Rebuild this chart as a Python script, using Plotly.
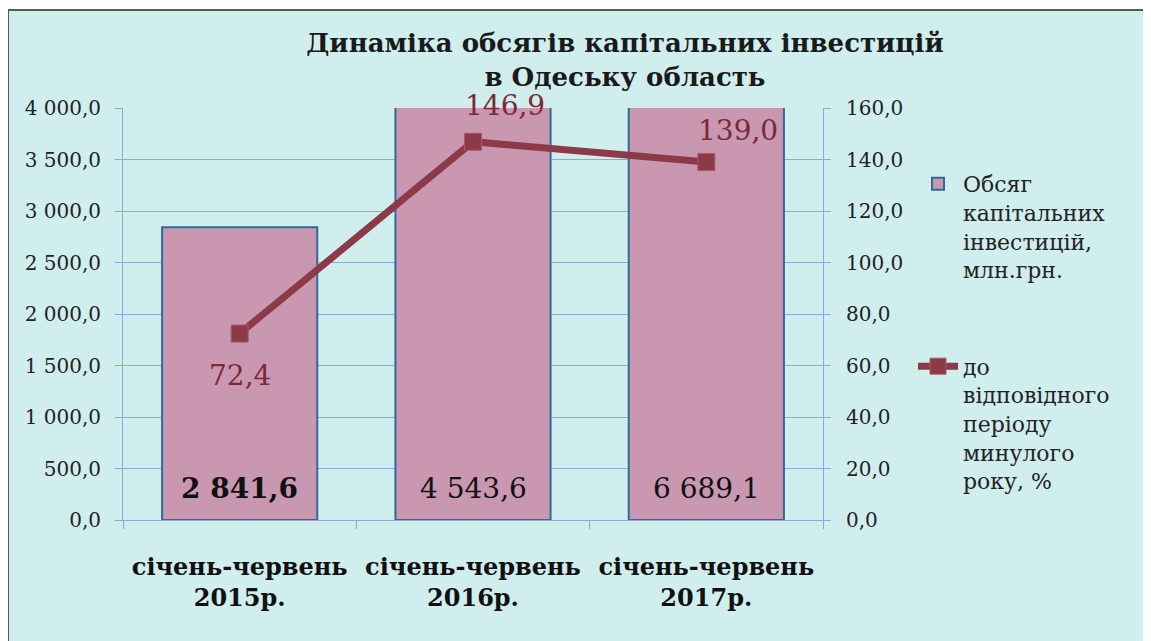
import plotly.graph_objects as go

categories = ["січень-червень<br>2015р.", "січень-червень<br>2016р.", "січень-червень<br>2017р."]
investments = [2841.6, 4543.6, 6689.1]
growth_pct = [72.4, 146.9, 139.0]
inv_labels = ["2 841,6", "4 543,6", "6 689,1"]
inv_label_weights = ["bold", "normal", "normal"]
pct_labels = ["72,4", "146,9", "139,0"]
left_ticks = [0, 500, 1000, 1500, 2000, 2500, 3000, 3500, 4000]
right_ticks = [0, 20, 40, 60, 80, 100, 120, 140, 160]

# page body has an 8px margin; figure coords = screenshot coords - 8
W, H = 1143, 633
ML, MT = 115, 100
PW, PH = 700, 412
MR = W - ML - PW
MB = H - MT - PH

SERIF = "DejaVu Serif"
BAR_FILL = "#C997B0"
BAR_LINE = "#2F6A9B"
LINE_COL = "#8C3A47"
GRID = "#8FA8D6"


def px_x(px):
    return (px - ML) / PW


def px_y(py):
    return (MT + PH - py) / PH


fig = go.Figure()

fig.add_trace(go.Bar(
    x=categories, y=investments,
    name="Обсяг<br>капітальних<br>інвестицій,<br>млн.грн.",
    marker=dict(color=BAR_FILL, line=dict(color=BAR_LINE, width=2)),
    width=0.665,
    legendgroup="a",
    yaxis="y",
))

fig.add_trace(go.Scatter(
    x=categories, y=growth_pct,
    name="до<br>відповідного<br>періоду<br>минулого<br>року, %",
    mode="lines+markers",
    line=dict(color=LINE_COL, width=7),
    marker=dict(symbol="square", size=17, color=LINE_COL, line=dict(color="#A85A66", width=1)),
    legendgroup="b",
    yaxis="y2",
))

# value labels at bottom of bars
for c, lab, wt in zip(categories, inv_labels, inv_label_weights):
    fig.add_annotation(
        x=c, y=0, xref="x", yref="y", text=lab, showarrow=False,
        yanchor="middle", yshift=32,
        font=dict(family=SERIF, size=28, color="#111111", weight=wt),
    )

# line labels
offsets = [(0, -42), (32, 36), (32, 32)]
for c, v, lab, (dx, dy) in zip(categories, growth_pct, pct_labels, offsets):
    fig.add_annotation(
        x=c, y=v, xref="x", yref="y2", text=lab, showarrow=False,
        xshift=dx, yshift=dy, borderpad=0,
        font=dict(family=SERIF, size=28, color="#7A2A37"),
    )

# outer frame
fig.add_shape(type="rect", xref="paper", yref="paper",
              x0=px_x(0), x1=px_x(1139), y0=px_y(640), y1=px_y(2),
              line=dict(color="#5A5A4A", width=2), fillcolor="#D0EEEE", layer="below")

fig.update_layout(
    width=W, height=H,
    margin=dict(l=ML, r=MR, t=MT, b=MB),
    paper_bgcolor="white",
    plot_bgcolor="#CCE7FA",
    separators=", ",
    title=dict(
        text="Динаміка обсягів капітальних інвестицій<br>в Одеську область",
        x=617 / W, xanchor="center", y=1 - 44 / H, yanchor="middle",
        font=dict(family=SERIF, size=26, color="#1A1A1A", weight="bold"),
    ),
    xaxis=dict(
        type="category",
        showline=True, linecolor=GRID, linewidth=1,
        ticks="outside", tickson="boundaries", ticklen=8, tickcolor=GRID,
        tickfont=dict(family=SERIF, size=24, color="#111111", weight="bold"),
        ticklabelstandoff=25,
        range=[-0.5, 2.5],
    ),
    yaxis=dict(
        range=[0, 4000], tickvals=left_ticks, tickformat=",.1f",
        showgrid=True, gridcolor=GRID, gridwidth=1,
        showline=True, linecolor=GRID, linewidth=1,
        ticks="outside", ticklen=7, tickcolor=GRID,
        tickfont=dict(family=SERIF, size=20, color="#222222"),
        ticklabelstandoff=10,
        zeroline=False,
    ),
    yaxis2=dict(
        range=[0, 160], tickvals=right_ticks, tickformat=".1f",
        overlaying="y", side="right",
        showgrid=False,
        showline=True, linecolor=GRID, linewidth=1,
        ticks="outside", ticklen=7, tickcolor=GRID,
        tickfont=dict(family=SERIF, size=20, color="#222222"),
        ticklabelstandoff=11,
        zeroline=False,
    ),
    showlegend=True,
    legend=dict(
        x=px_x(905), xanchor="left",
        y=px_y(155), yanchor="top",
        bgcolor="rgba(0,0,0,0)",
        font=dict(family=SERIF, size=22, color="#222222"),
        valign="top",
        tracegroupgap=65,
        itemwidth=40,
    ),
    bargap=0.335,
)

fig.write_html("out.html")
